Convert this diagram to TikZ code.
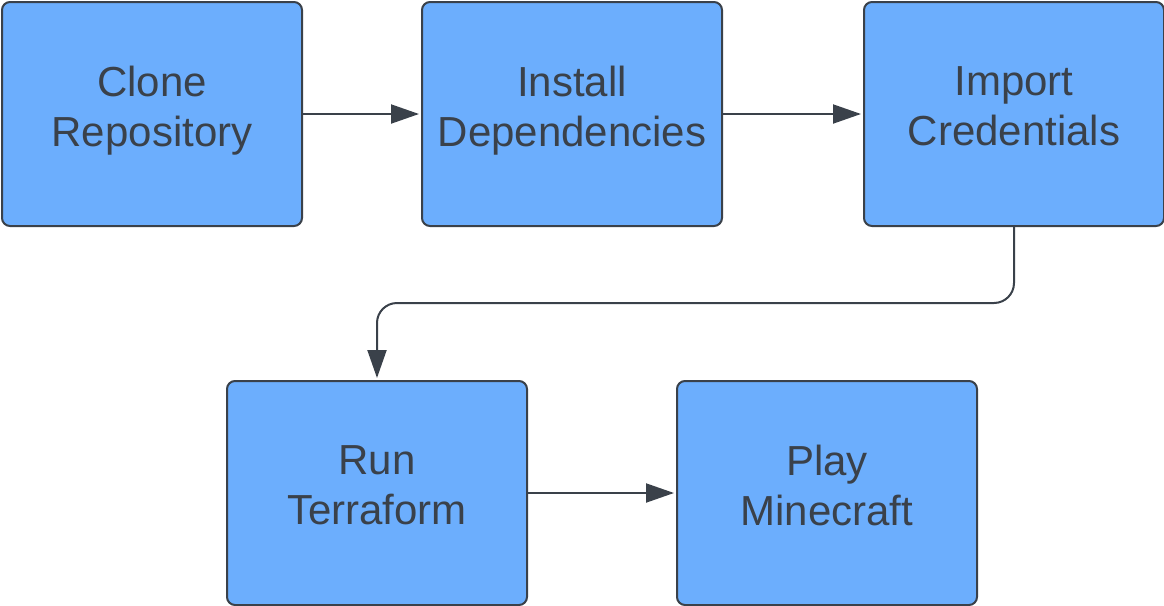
\documentclass[tikz,border=0pt]{standalone}
\usepackage{fontspec}
\setmainfont{Liberation Sans}
\usepackage{tikz}
\usetikzlibrary{
        arrows.meta,
        positioning
    }
\definecolor{boxblue}{RGB}{108,174,253}
\definecolor{inkgray}{RGB}{58,65,74}
\tikzset{>={Triangle[length=14pt,width=9.5pt]},shorten >=1pt}
\tikzset{stepbox/.style={draw=inkgray,line width=1pt,fill=boxblue,rounded corners=4pt,
        minimum width=150pt,minimum height=112pt,inner sep=0pt,align=center,
        text=inkgray,font=\fontsize{21}{25}\selectfont,
        execute at begin node=\strut,execute at end node={\rule[-5.5pt]{0pt}{1pt}}}}

\begin{document}
\begin{tikzpicture}[>={Triangle[length=14pt,width=9.5pt]},shorten >=1pt,line width=1pt,draw=inkgray]
                \useasboundingbox (0,0) rectangle (582pt,-303pt);
                \node[stepbox] (clone) at (76pt,-57pt) {Clone\\Repository};
                \node[stepbox] (install) [right=59pt of clone] {Install\\Dependencies};
                \node[stepbox] (import) [right=70pt of install] {Import\\Credentials};
                \node[stepbox] (run) at (188.5pt,-246.5pt) {Run\\Terraform};
                \node[stepbox] (play) [right=74pt of run] {Play\\Minecraft};
                \coordinate (turn) at (300pt,-151.5pt);
                \path[draw=inkgray,->]
                    (clone) edge (install)
                    (install) edge (import)
                    (run) edge (play)
                ;
                \draw[draw=inkgray,->,rounded corners=10pt] (import.south) |- (turn) -| (run.north);
            \end{tikzpicture}
\end{document}
